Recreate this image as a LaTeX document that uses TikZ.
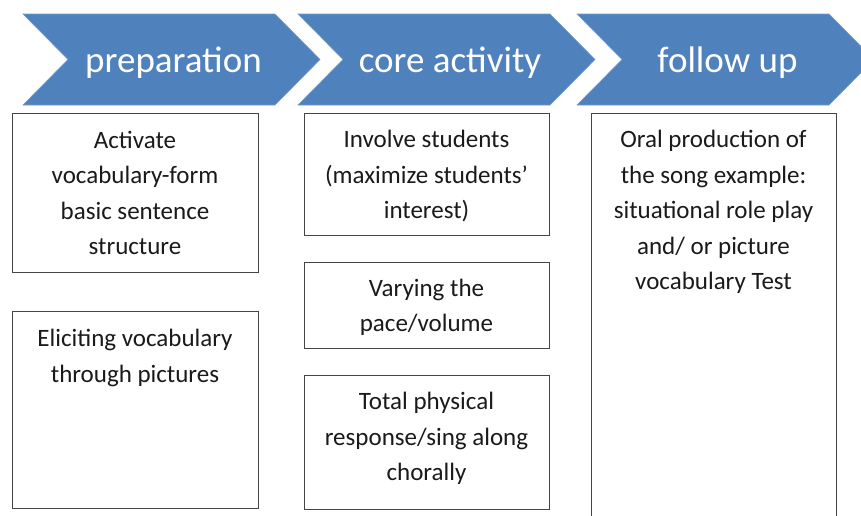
\documentclass[tikz,border=0pt]{standalone}
\usepackage{fontspec}
\setmainfont{Carlito}
\definecolor{chev}{HTML}{4F81BD}
\definecolor{boxline}{HTML}{454545}
\definecolor{txt}{HTML}{1A1A1A}
\begin{document}
\begin{tikzpicture}[x=1pt,y=-1pt,
  chevron/.style={fill=chev, draw=chev!80!white, line width=0.6pt},
  head/.style={text=white, font=\fontsize{37}{44}\selectfont, anchor=base, inner sep=0pt},
  stepbox/.style={draw=boxline, line width=1.1pt, fill=white, inner sep=0pt, anchor=north west},
  boxtext/.style={text=txt, font=\fontsize{25}{35.5}\selectfont, align=center, inner sep=0pt}]
\path[use as bounding box, clip] (0,0) rectangle (861,515);
% chevrons
\foreach \x in {23,298,577}{
  \draw[chevron] (\x,14) -- (\x+252,14) -- (\x+297,59.5) -- (\x+252,105) -- (\x,105) -- (\x+45,59.5) -- cycle;
}
\node[head] (h1) at (173.5,72) {preparation};
\node[head] (h2) at (450,72) {core activity};
\node[head] (h3) at (727.5,72) {follow up};
% boxes
\node[stepbox, minimum width=246pt, minimum height=159pt] (p1) at (12,113) {};
\node[stepbox, minimum width=246pt, minimum height=197pt] (p2) at (12,311) {};
\node[stepbox, minimum width=245pt, minimum height=122pt] (c1) at (304,113) {};
\node[stepbox, minimum width=245pt, minimum height=86pt] (c2) at (304,262) {};
\node[stepbox, minimum width=245pt, minimum height=134pt] (c3) at (304,375) {};
\node[stepbox, minimum width=245pt, minimum height=420pt] (f1) at (591,113) {};
% texts
\node[boxtext] (tp1) at (135,193) {Activate\\vocabulary-form\\basic sentence\\structure};
\node[boxtext] (tp2) at (135,358) {Eliciting vocabulary\\through pictures};
\node[boxtext] (tc1) at (426.5,176.5) {Involve students\\(maximize students’\\interest)};
\node[boxtext] (tc2) at (426.5,307.5) {Varying the\\pace/volume};
\node[boxtext] (tc3) at (426.5,438.5) {Total physical\\response/sing along\\chorally};
\node[boxtext] (tf1) at (713.5,212) {Oral production of\\the song example:\\situational role play\\and/ or picture\\vocabulary Test};
\end{tikzpicture}
\end{document}
